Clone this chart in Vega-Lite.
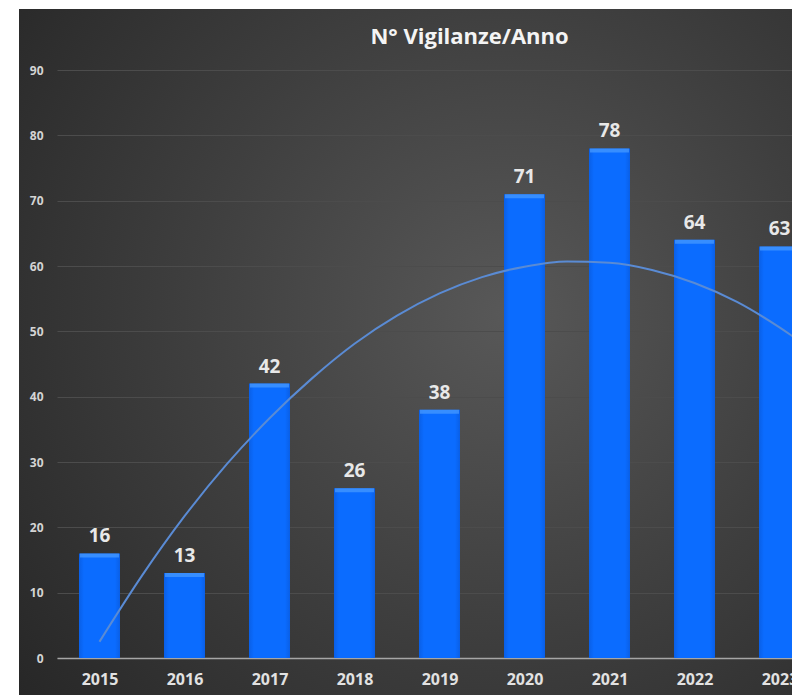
{
  "$schema": "https://vega.github.io/schema/vega-lite/v6.json",
  "width": 773,
  "height": 686,
  "autosize": {"type": "none"},
  "padding": {"left": 19, "top": 9, "right": 0, "bottom": 0},
  "background": "white",
  "config": {
    "font": "Open Sans",
    "view": {
      "stroke": null,
      "fill": {
        "gradient": "radial",
        "x1": 0.63, "y1": 0.45, "r1": 0,
        "x2": 0.63, "y2": 0.45, "r2": 0.8,
        "stops": [
          {"offset": 0, "color": "#585858"},
          {"offset": 0.5, "color": "#3f3f3f"},
          {"offset": 1, "color": "#272727"}
        ]
      }
    }
  },
  "title": {
    "text": "N° Vigilanze/Anno",
    "fontSize": 22,
    "fontWeight": "bold",
    "font": "Open Sans",
    "color": "#f4f4f4",
    "anchor": "middle",
    "frame": "group",
    "dx": 64,
    "offset": -57,
    "baseline": "alphabetic"
  },
  "datasets": {
    "bars": [
      {"year": 2015, "n": 16},
      {"year": 2016, "n": 13},
      {"year": 2017, "n": 42},
      {"year": 2018, "n": 26},
      {"year": 2019, "n": 38},
      {"year": 2020, "n": 71},
      {"year": 2021, "n": 78},
      {"year": 2022, "n": 64},
      {"year": 2023, "n": 63}
    ],
    "trend": [
      {"t": 2015.0, "v": 2.5},
      {"t": 2015.5, "v": 12.6},
      {"t": 2016.0, "v": 21.7},
      {"t": 2016.5, "v": 29.7},
      {"t": 2017.0, "v": 36.7},
      {"t": 2017.5, "v": 42.8},
      {"t": 2018.0, "v": 48.1},
      {"t": 2018.5, "v": 52.4},
      {"t": 2019.0, "v": 55.8},
      {"t": 2019.5, "v": 58.3},
      {"t": 2020.0, "v": 59.9},
      {"t": 2020.5, "v": 60.7},
      {"t": 2021.0, "v": 60.5},
      {"t": 2021.5, "v": 59.4},
      {"t": 2022.0, "v": 57.4},
      {"t": 2022.5, "v": 54.5},
      {"t": 2023.0, "v": 50.6},
      {"t": 2023.5, "v": 46.0}
    ]
  },
  "layer": [
    {
      "data": {"name": "bars"},
      "mark": {
        "type": "bar",
        "orient": "vertical",
        "width": 41,
        "fill": {
          "gradient": "linear",
          "x1": 0, "y1": 0, "x2": 1, "y2": 0,
          "stops": [
            {"offset": 0, "color": "#0a5fe6"},
            {"offset": 0.12, "color": "#0b6cff"},
            {"offset": 0.88, "color": "#0b6cff"},
            {"offset": 1, "color": "#0a5fe6"}
          ]
        }
      },
      "encoding": {
        "x": {
          "field": "year",
          "type": "quantitative",
          "scale": {"domain": [2014.5, 2023.5], "range": [38, 803], "nice": false, "zero": false, "padding": 0},
          "axis": {
            "orient": "bottom",
            "offset": -37,
            "values": [2015, 2016, 2017, 2018, 2019, 2020, 2021, 2022, 2023],
            "format": "d",
            "title": null,
            "grid": false,
            "ticks": false,
            "domain": true,
            "domainColor": "#a6a6a6",
            "domainWidth": 1.5,
            "labelFont": "Open Sans",
            "labelFontSize": 16,
            "labelFontWeight": "bold",
            "labelColor": "#e2e2e2",
            "labelPadding": 13,
            "labelFlush": false,
            "labelOverlap": false
          }
        },
        "y": {
          "field": "n",
          "type": "quantitative",
          "scale": {"domain": [0, 90], "range": [649, 61], "nice": false, "zero": true, "padding": 0},
          "axis": {
            "orient": "left",
            "offset": -38,
            "values": [0, 10, 20, 30, 40, 50, 60, 70, 80, 90],
            "title": null,
            "domain": false,
            "ticks": false,
            "grid": true,
            "gridColor": "#4c4c4c",
            "gridWidth": 1,
            "labelFont": "Open Sans",
            "labelFontSize": 12,
            "labelFontWeight": "bold",
            "labelColor": "#d4d4d4",
            "labelPadding": 14
          }
        }
      }
    },
    {
      "data": {"name": "bars"},
      "mark": {"type": "tick", "orient": "horizontal", "thickness": 4, "size": 39, "color": "#4a9cff", "yOffset": 2},
      "encoding": {
        "x": {"field": "year", "type": "quantitative"},
        "y": {"field": "n", "type": "quantitative"}
      }
    },
    {
      "data": {"name": "trend"},
      "mark": {"type": "line", "interpolate": "monotone", "color": "#5a8bd4", "strokeWidth": 2},
      "encoding": {
        "x": {"field": "t", "type": "quantitative"},
        "y": {"field": "v", "type": "quantitative"}
      }
    },
    {
      "data": {"name": "bars"},
      "mark": {
        "type": "text",
        "baseline": "alphabetic",
        "dy": -11,
        "font": "Open Sans",
        "fontSize": 19,
        "fontWeight": "bold",
        "color": "#e8e8e8"
      },
      "encoding": {
        "x": {"field": "year", "type": "quantitative"},
        "y": {"field": "n", "type": "quantitative"},
        "text": {"field": "n", "type": "quantitative"}
      }
    }
  ]
}
